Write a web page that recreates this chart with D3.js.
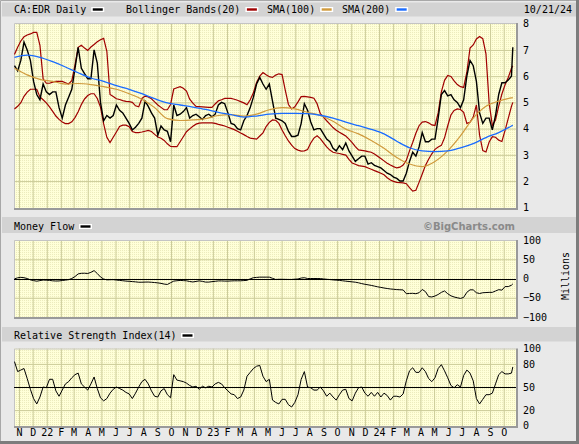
<!DOCTYPE html>
<html>
<head>
<meta charset="utf-8">
<script src="https://cdn.jsdelivr.net/npm/d3@7"></script>
<style>
  body { margin: 0; background: #e9e9e9; }
  svg { display: block; }
  text { font-family: "DejaVu Sans Mono", monospace; font-size: 10px; fill: #000; }
  .grid line { stroke: #cccc99; stroke-width: 1; }
</style>
</head>
<body>
<div id="chart"></div>
<script>
const svgWidth = 579;
const svgHeight = 444;

const plotLeft = 14;
const plotRight = 516;

// ---- data (weekly closes) ----
const weekDates = d3.timeFriday.range(new Date(2021, 9, 22), new Date(2024, 9, 19));
const lastDate = new Date(2024, 9, 21);
const dates = weekDates.concat([lastDate]);
const smaDates = weekDates.filter((d, i) => i % 4 === 0).concat([lastDate]);
const monthStarts = d3.timeMonth.range(new Date(2021, 10, 1), new Date(2024, 9, 2));

const priceValues = [6.4, 6.2, 6.6, 7.3, 7.0, 6.6, 5.8, 5.3, 5.1, 5.7,
  5.4, 5.3, 5.4, 5.4, 4.8, 4.4, 4.9, 5.2, 5.5, 6.3,
  7.1, 6.3, 6.1, 5.9, 5.9, 7.0, 6.5, 5.0, 4.3, 4.5,
  4.4, 4.5, 4.9, 4.7, 4.6, 4.4, 4.2, 3.95, 4.05, 4.2,
  4.4, 5.05, 4.85, 4.6, 4.4, 3.75, 4.1, 3.95, 3.9, 3.5,
  4.9, 4.5, 4.55, 4.65, 4.8, 4.4, 4.5, 4.55, 4.45, 4.35,
  4.5, 4.55, 4.45, 4.55, 4.9, 5.0, 4.95, 4.6, 4.2, 4.15,
  4.0, 3.95, 4.3, 4.5, 4.8, 5.2, 5.7, 5.95, 5.7, 5.5,
  5.7, 5.05, 4.4, 4.35, 4.3, 4.2, 3.9, 3.7, 3.7, 3.75,
  4.2, 4.95, 4.7, 4.25, 3.95, 4.0, 4.0, 3.8, 3.6, 3.5,
  3.25, 3.15, 3.35, 3.2, 3.45, 3.15, 2.95, 2.75, 2.85, 2.95,
  2.95, 2.65, 2.7, 2.6, 2.55, 2.5, 2.4, 2.3, 2.25, 2.15,
  2.1, 2.0, 2.0, 2.3, 2.75, 3.1, 2.95, 3.3, 3.85, 3.5,
  3.5, 3.6, 3.6, 4.4, 5.3, 5.45, 5.25, 5.3, 5.1, 5.0,
  4.8, 5.1, 6.0, 6.6, 6.4, 5.8, 4.6, 4.2, 4.4, 4.4,
  3.95, 4.5, 5.3, 5.75, 5.75, 5.85, 6.0, 7.1];

const bandUpper = [6.83, 7.1, 7.34, 7.5, 7.57, 7.61, 7.67, 7.67, 7.17, 5.9,
  5.73, 5.73, 5.77, 5.8, 5.8, 5.8, 5.75, 5.7, 5.83, 6.42,
  7.1, 7.18, 7.07, 6.98, 7.11, 7.21, 7.31, 7.39, 7.44, 6.95,
  5.3, 5.22, 5.14, 5.11, 5.07, 5.04, 5.03, 5.0, 4.87, 4.83,
  5.15, 5.24, 5.21, 5.14, 5.02, 4.9, 4.81, 4.72, 4.72, 4.92,
  5.51, 5.56, 5.6, 5.54, 5.43, 5.12, 4.97, 4.85, 4.84, 4.83,
  4.82, 4.81, 4.81, 4.94, 5.06, 5.1, 5.15, 5.15, 5.15, 5.12,
  5.08, 5.03, 4.98, 4.91, 5.1, 5.37, 5.76, 6.0, 6.14, 6.05,
  5.98, 5.95, 6.04, 6.09, 6.06, 5.47, 4.92, 4.75, 4.83, 5.02,
  5.22, 5.23, 5.21, 5.19, 5.16, 4.95, 4.57, 4.44, 4.3, 4.17,
  4.04, 3.94, 3.86, 3.79, 3.72, 3.6, 3.47, 3.31, 3.19, 3.17,
  3.15, 3.12, 3.1, 3.03, 2.95, 2.86, 2.77, 2.68, 2.61, 2.55,
  2.5, 2.53, 2.61, 2.79, 3.15, 3.47, 3.82, 4.11, 4.25, 4.27,
  4.22, 4.14, 4.12, 4.6, 5.4, 5.84, 6.03, 5.99, 5.82, 5.68,
  5.6, 5.57, 6.15, 7.07, 7.19, 7.42, 7.51, 7.43, 6.85, 4.98,
  4.12, 4.33, 4.86, 5.32, 5.67, 5.95, 6.3, 6.4];

const bandLower = [4.75, 4.85, 4.99, 5.23, 5.39, 5.5, 5.5, 5.5, 5.21, 5.1,
  4.98, 4.83, 4.66, 4.48, 4.35, 4.25, 4.19, 4.19, 4.26, 4.42,
  4.64, 4.92, 5.13, 5.26, 5.33, 5.33, 5.15, 4.82, 4.18, 3.67,
  3.47, 3.67, 3.87, 4.08, 4.13, 4.13, 4.07, 3.89, 3.85, 3.85,
  3.87, 3.9, 3.93, 3.89, 3.78, 3.68, 3.63, 3.55, 3.42, 3.32,
  3.31, 3.31, 3.5, 3.69, 3.88, 3.99, 4.09, 4.17, 4.21, 4.22,
  4.22, 4.22, 4.22, 4.2, 4.16, 4.13, 4.1, 4.05, 4.01, 3.96,
  3.9, 3.83, 3.77, 3.7, 3.64, 3.62, 3.6, 3.72, 3.84, 4.08,
  4.24, 4.33, 4.32, 4.2, 3.95, 3.73, 3.53, 3.37, 3.24, 3.18,
  3.14, 3.15, 3.2, 3.45, 3.64, 3.73, 3.62, 3.46, 3.3, 3.18,
  3.1, 3.07, 3.05, 3.02, 2.99, 2.83, 2.69, 2.64, 2.59, 2.57,
  2.55, 2.5, 2.45, 2.4, 2.35, 2.3, 2.24, 2.13, 2.04, 1.99,
  1.95, 1.94, 1.93, 1.9, 1.75, 1.62, 1.65, 1.95, 2.27, 2.59,
  2.83, 3.04, 3.21, 3.3, 3.36, 3.65, 4.11, 4.52, 4.69, 4.75,
  4.73, 4.62, 4.2, 4.24, 4.44, 4.9, 3.75, 3.16, 3.11, 3.49,
  3.69, 3.67, 3.56, 3.51, 3.93, 4.39, 4.85, 5.0];

// every fourth week
const sma100 = [6.3, 6.05, 5.88, 5.8, 5.7, 5.72, 5.68, 5.6, 5.5, 5.33,
  5.12, 4.8, 4.38, 4.31, 4.33, 4.38, 4.5, 4.53, 4.48, 4.55,
  4.72, 4.8, 4.75, 4.62, 4.5, 4.28, 3.98, 3.8, 3.55, 3.25,
  2.9, 2.65, 2.55, 2.75, 3.15, 3.72, 4.4, 4.85, 5.05, 5.17, 5.18];

const sma200 = [6.72, 6.8, 6.72, 6.55, 6.35, 6.13, 5.93, 5.8, 5.64, 5.5,
  5.33, 5.14, 4.98, 4.9, 4.82, 4.73, 4.62, 4.53, 4.44, 4.48,
  4.55, 4.58, 4.58, 4.57, 4.51, 4.4, 4.25, 4.11, 3.97, 3.8,
  3.52, 3.27, 3.15, 3.12, 3.15, 3.27, 3.43, 3.66, 3.85, 4.1, 4.13];

// millions
const moneyFlow = [-1, 1.8, 3, 2, 0, -3.5, -5.5, -7, -5.5, -4,
  -4.5, -5, -6, -6.5, -6.3, -5.2, -4.2, -3, 0, 5,
  12, 13.5, 13.7, 13, 16, 20.5, 13, 4, -1.4, -3.5,
  -3.2, -3, -4, -5, -5.8, -6.7, -7.3, -8, -8.7, -9.7,
  -9.7, -9.3, -9.2, -9.8, -10.5, -11.4, -12.6, -14.5, -15.5, -11,
  -6.8, -5.8, -5, -5.5, -6, -7.8, -9, -7.6, -6.2, -7.5,
  -9.3, -9.3, -8.2, -7.3, -6.3, -6.3, -6.7, -6.8, -6.3, -6,
  -6, -5.9, -5.4, -4.7, -0.9, 2.1, 2.8, 3.5, 3.5, 3.5,
  3.5, 0.5, -2.5, -2.1, -2.1, -2.3, -2.5, -2.5, -1.8, -1.3,
  1.2, 2, 0, 0, 0, 0, -0.2, -1.2, -2, -2.8,
  -3.6, -4.3, -5, -5.9, -6.9, -7.8, -8.7, -9.6, -11.2, -13.3,
  -15, -16.4, -17.9, -19.8, -21.6, -23.1, -24.7, -26, -27.2, -28,
  -28.8, -29.3, -29.7, -39.5, -38.8, -38.5, -39.5, -37, -28.5, -34,
  -47, -48, -45.5, -41.5, -36, -32.3, -39.5, -45, -48, -50,
  -51.8, -49, -35.8, -29.4, -29.5, -37, -39, -37, -36.5, -36,
  -36, -32.5, -29, -30.2, -21, -21, -17.5, -14];

const rsiValues = [83, 70, 72, 74, 61, 47, 35, 28, 37, 50,
  49, 60, 60, 45, 38, 46, 54, 57, 62, 66,
  68, 54, 50, 46, 54, 63, 48, 36, 32, 35,
  42, 47, 50, 48, 46, 43, 41, 35, 42, 50,
  57, 60, 54, 45, 38, 37, 45, 48, 40, 36,
  66, 59, 58, 57, 55, 52, 50, 51, 47, 51,
  49, 51, 50, 54, 56, 54, 49, 45, 41, 40,
  35, 37, 46, 64, 69, 74, 77, 78, 64, 57,
  60, 33, 30, 28, 34, 34, 27, 24, 30, 40,
  60, 70, 50, 49, 46, 46, 50, 45, 38, 42,
  37, 33, 40, 46, 47, 35, 32, 42, 49, 50,
  42, 38, 43, 38, 43, 37, 42, 39, 33, 38,
  38, 37, 41, 58, 71, 75, 69, 69, 75, 70,
  61, 57, 62, 74, 79, 71, 62, 52, 49, 53,
  50, 65, 72, 68, 58, 35, 28, 34, 40, 40,
  42, 54, 66, 70, 67, 67, 68, 76];

const mainTicks = [1, 2, 3, 4, 5, 6, 7, 8];
const flowTicks = [100, 50, 0, -50, -100];
const rsiTicks = [100, 80, 50, 20, 0];

const legendItems = [
  { label: "CA:EDR Daily", color: "#000000", x: 14 },
  { label: "Bollinger Bands(20)", color: "#a00000", x: 126 },
  { label: "SMA(100)", color: "#d09a3c", x: 267 },
  { label: "SMA(200)", color: "#1a6cff", x: 342 }
];

// ---- scales ----
const x = d3.scaleTime()
  .domain([new Date(2021, 9, 21), new Date(2024, 9, 28)])
  .range([plotLeft, plotRight]);

const yMain = d3.scaleLinear().domain([1, 8]).range([207.3, 23.7]);
const yFlow = d3.scaleLinear().domain([-100, 100]).range([317, 240]);
const yRsi = d3.scaleLinear().domain([0, 100]).range([425.5, 348.5]);

const svg = d3.select("#chart")
  .append("svg")
  .attr("width", svgWidth)
  .attr("height", svgHeight);

svg.append("rect")
  .attr("width", svgWidth)
  .attr("height", svgHeight)
  .attr("fill", "#e9e9e9");

// dotted yellow paper
var defs = svg.append("defs");
var pat = defs.append("pattern")
  .attr("id", "paper")
  .attr("width", 2)
  .attr("height", 2)
  .attr("patternUnits", "userSpaceOnUse");
pat.append("rect").attr("width", 2).attr("height", 2).attr("fill", "#ffffd8");
pat.append("rect").attr("width", 1).attr("height", 1).attr("fill", "#ecebbd");

// header bars
function headerBar(top, bottom) {
  svg.append("rect")
    .attr("x", 2)
    .attr("y", top)
    .attr("width", 575)
    .attr("height", bottom - top)
    .attr("fill", "#d3d3d3");
}
headerBar(2.5, 16.5);
headerBar(217, 233);
headerBar(327, 341.5);

// legend swatch
function swatch(x0, yMid, color) {
  svg.append("rect")
    .attr("x", x0).attr("y", yMid - 2.5)
    .attr("width", 13).attr("height", 5)
    .attr("fill", "#ffffff");
  svg.append("rect")
    .attr("x", x0 + 1.5).attr("y", yMid - 1.2)
    .attr("width", 10).attr("height", 2.4)
    .attr("fill", color);
}

legendItems.forEach(function(item) {
  var t = svg.append("text")
    .attr("x", item.x)
    .attr("y", 13)
    .text(item.label);
  var w = t.node().getComputedTextLength();
  swatch(item.x + w + 5, 9.5, item.color);
});

svg.append("text")
  .attr("x", 572)
  .attr("y", 13)
  .attr("text-anchor", "end")
  .text("10/21/24");

svg.append("text")
  .attr("x", 14)
  .attr("y", 230)
  .text("Money Flow");
swatch(79, 226.5, "#000000");

svg.append("text")
  .attr("x", 515)
  .attr("y", 230)
  .attr("text-anchor", "end")
  .style("font-family", "'DejaVu Sans', sans-serif")
  .style("font-weight", "bold")
  .style("fill", "#8a8a8a")
  .text("\u00a9BigCharts.com");

svg.append("text")
  .attr("x", 14)
  .attr("y", 339)
  .text("Relative Strength Index(14)");
swatch(181, 335.5, "#000000");

// ---- panels ----
function drawPanel(id, top, bottom, yScale, gridTicks, labelTicks) {
  var g = svg.append("g");

  g.append("rect")
    .attr("x", plotLeft)
    .attr("y", top)
    .attr("width", plotRight - plotLeft)
    .attr("height", bottom - top)
    .attr("fill", "url(#paper)");

  // month grid
  g.append("g")
    .attr("class", "grid")
    .attr("transform", `translate(0, ${bottom})`)
    .call(d3.axisBottom(x).tickValues(monthStarts).tickSize(-(bottom - top)).tickFormat(""))
    .call(a => a.select(".domain").remove());

  // value grid
  g.append("g")
    .attr("class", "grid")
    .attr("transform", `translate(${plotLeft}, 0)`)
    .call(d3.axisLeft(yScale).tickValues(gridTicks).tickSize(-(plotRight - plotLeft)).tickFormat(""))
    .call(a => a.select(".domain").remove());

  // frame: light top/left, shadow right/bottom
  g.append("path")
    .attr("d", `M${plotLeft + 0.5},${bottom} V${top + 0.5} H${plotRight}`)
    .attr("fill", "none")
    .attr("stroke", "#c4c4c4");
  g.append("path")
    .attr("d", `M${plotLeft},${bottom + 1} H${plotRight + 1} V${top}`)
    .attr("fill", "none")
    .attr("stroke", "#9a9a9a")
    .attr("stroke-width", 2);

  // right labels
  g.append("g")
    .attr("transform", `translate(523, 0)`)
    .call(d3.axisRight(yScale).tickValues(labelTicks).tickSize(0).tickPadding(0).tickFormat(d3.format("d")))
    .call(a => a.select(".domain").remove())
    .call(a => a.selectAll("text").attr("fill", "#000"));

  defs.append("clipPath")
    .attr("id", "clip-" + id)
    .append("rect")
    .attr("x", plotLeft)
    .attr("y", top)
    .attr("width", plotRight - plotLeft)
    .attr("height", bottom - top);

  return g.append("g").attr("clip-path", `url(#clip-${id})`);
}

var mainGroup = drawPanel("main", 23, 208, yMain, [2, 3, 4, 5, 6, 7], mainTicks);
var flowGroup = drawPanel("flow", 240, 317, yFlow, [50, -50], flowTicks);
var rsiGroup = drawPanel("rsi", 348.5, 426, yRsi, [80, 20], rsiTicks);

// ---- main price chart ----
var weekLine = d3.line()
  .x((d, i) => x(dates[i]))
  .y(d => yMain(d));

var smaLine = d3.line()
  .x((d, i) => x(smaDates[i]))
  .y(d => yMain(d))
  .curve(d3.curveMonotoneX);

mainGroup.append("path")
  .datum(bandUpper)
  .attr("d", weekLine)
  .attr("fill", "none")
  .attr("stroke", "#a00000")
  .attr("stroke-width", 1.2);

mainGroup.append("path")
  .datum(bandLower)
  .attr("d", weekLine)
  .attr("fill", "none")
  .attr("stroke", "#a00000")
  .attr("stroke-width", 1.2);

mainGroup.append("path")
  .datum(priceValues)
  .attr("d", weekLine)
  .attr("fill", "none")
  .attr("stroke", "#000")
  .attr("stroke-width", 1.4);

mainGroup.append("path")
  .datum(sma100)
  .attr("d", smaLine)
  .attr("fill", "none")
  .attr("stroke", "#d09a3c")
  .attr("stroke-width", 1.2);

mainGroup.append("path")
  .datum(sma200)
  .attr("d", smaLine)
  .attr("fill", "none")
  .attr("stroke", "#1a6cff")
  .attr("stroke-width", 1.3);

// ---- money flow ----
flowGroup.append("line")
  .attr("x1", plotLeft).attr("x2", plotRight)
  .attr("y1", Math.round(yFlow(0)) + 0.5).attr("y2", Math.round(yFlow(0)) + 0.5)
  .attr("stroke", "#000");

flowGroup.append("path")
  .datum(moneyFlow)
  .attr("d", d3.line().x((d, i) => x(dates[i])).y(d => yFlow(d)))
  .attr("fill", "none")
  .attr("stroke", "#000")
  .attr("stroke-width", 1);

svg.append("text")
  .attr("transform", "translate(569, 276) rotate(-90)")
  .attr("text-anchor", "middle")
  .text("Millions");

// ---- RSI ----
rsiGroup.append("line")
  .attr("x1", plotLeft).attr("x2", plotRight)
  .attr("y1", Math.round(yRsi(50)) + 0.5).attr("y2", Math.round(yRsi(50)) + 0.5)
  .attr("stroke", "#000");

rsiGroup.append("path")
  .datum(rsiValues)
  .attr("d", d3.line().x((d, i) => x(dates[i])).y(d => yRsi(d)))
  .attr("fill", "none")
  .attr("stroke", "#000")
  .attr("stroke-width", 1);

// month labels
var monthFormat = d => d.getMonth() === 0 ? d3.timeFormat("%y")(d) : d3.timeFormat("%b")(d).charAt(0);

svg.append("g")
  .attr("transform", "translate(0, 429)")
  .call(d3.axisBottom(x).tickValues(monthStarts).tickSize(0).tickPadding(0).tickFormat(monthFormat))
  .call(a => a.select(".domain").remove())
  .call(a => a.selectAll("text").attr("fill", "#000"));

// outer frame
svg.append("path")
  .attr("d", `M0.5,${svgHeight} V0.5 H${svgWidth}`)
  .attr("fill", "none")
  .attr("stroke", "#a8a8a8");
svg.append("path")
  .attr("d", `M0,${svgHeight - 1.5} H${svgWidth - 1.5} V0`)
  .attr("fill", "none")
  .attr("stroke", "#7c7c7c")
  .attr("stroke-width", 3);
</script>
</body>
</html>
